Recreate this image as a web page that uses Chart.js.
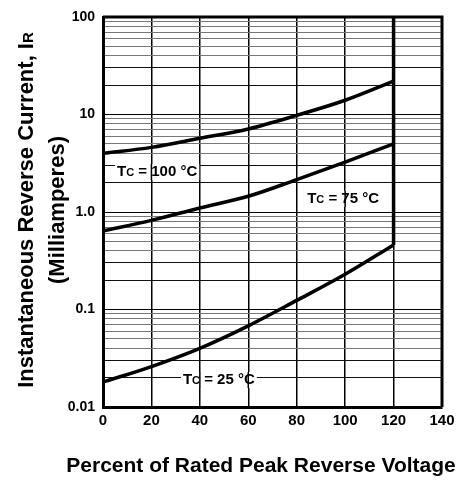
<!DOCTYPE html>
<html>
<head>
<meta charset="utf-8">
<script src="https://cdn.jsdelivr.net/npm/chart.js@4"></script>
<style>
  html, body { margin: 0; padding: 0; background: #fff; }
  #wrap { width: 465px; height: 480px; }
</style>
</head>
<body>
<div id="wrap"><canvas id="chart" width="465" height="480"></canvas></div>
<script>
// percent of rated peak reverse voltage
const voltagePct = [0, 20, 40, 60, 80, 100, 120];
// instantaneous reverse current (mA) per case temperature
const tc100 = [4.0, 4.6, 5.7, 7.1, 9.8, 14, 22];
const tc75 = [0.64, 0.82, 1.1, 1.45, 2.15, 3.25, 5.0];
const tc25 = [0.018, 0.026, 0.040, 0.068, 0.124, 0.23, 0.46];

const xTicks = [0, 20, 40, 60, 80, 100, 120, 140];
const yDecades = [0.01, 0.1, 1, 10, 100];
const yDecadeLabels = ["0.01", "0.1", "1.0", "10", "100"];

// curve labels: temperature text and where the label box starts (data coords)
const curveLabels = [
  { temp: "100", x: 5.8, y: 2.57 },
  { temp: "75", x: 84.3, y: 1.36 },
  { temp: "25", x: 33.0, y: 0.0189 }
];

const FONT = "'Liberation Sans', Arial, sans-serif";

// grid ticks on the log axis: 1..9 in every decade
const yTicks = [];
yDecades.forEach((d, i) => {
  yTicks.push(d);
  if (i < yDecades.length - 1) {
    for (let k = 2; k <= 9; k++) yTicks.push(+(d * k).toPrecision(3));
  }
});

const pts = (ys) => voltagePct.map((x, i) => ({ x: x, y: ys[i] }));
const lastX = voltagePct[voltagePct.length - 1];

const lineStyle = {
  borderColor: "#000",
  borderWidth: 3.5,
  pointRadius: 0,
  fill: false,
  cubicInterpolationMode: "monotone"
};

const labelPlugin = {
  id: "curveLabels",
  beforeDatasetsDraw(chart) {
    const { ctx, scales } = chart;
    curveLabels.forEach((l) => {
      const x0 = scales.x.getPixelForValue(l.x);
      const yc = scales.y.getPixelForValue(l.y);
      ctx.save();
      ctx.textBaseline = "middle";
      const parts = [
        { t: "T", f: "bold 15px " + FONT, dy: 0 },
        { t: "C", f: "bold 11px " + FONT, dy: 1 },
        { t: " = " + l.temp + " \u00b0C", f: "bold 15px " + FONT, dy: 0 }
      ];
      let w = 0;
      parts.forEach((p) => { ctx.font = p.f; p.w = ctx.measureText(p.t).width; w += p.w; });
      ctx.fillStyle = "#fff";
      ctx.fillRect(x0 - 2, yc - 8, w + 4, 16);
      // vertical grid lines run through the label box
      ctx.strokeStyle = "#000";
      ctx.lineWidth = 1.5;
      xTicks.forEach((v) => {
        const px = scales.x.getPixelForValue(v);
        if (px > x0 - 2 && px < x0 + w + 2) {
          ctx.beginPath();
          ctx.moveTo(px, yc - 8);
          ctx.lineTo(px, yc + 8);
          ctx.stroke();
        }
      });
      ctx.fillStyle = "#000";
      let x = x0;
      parts.forEach((p) => { ctx.font = p.f; ctx.fillText(p.t, x, yc + p.dy); x += p.w; });
      ctx.restore();
    });
  },
  afterDraw(chart) {
    const { ctx, chartArea: a } = chart;
    ctx.save();
    // top and right frame
    ctx.strokeStyle = "#000";
    ctx.lineWidth = 3;
    ctx.beginPath();
    ctx.moveTo(a.left, a.top);
    ctx.lineTo(a.right, a.top);
    ctx.lineTo(a.right, a.bottom);
    ctx.stroke();

    ctx.fillStyle = "#000";
    ctx.textBaseline = "middle";
    // x axis title
    ctx.font = "bold 21px " + FONT;
    ctx.textAlign = "center";
    ctx.fillText("Percent of Rated Peak Reverse Voltage", 261, 466);
    ctx.restore();

    // y axis title, two rotated lines (baseline on the right)
    const big = "bold 22px " + FONT, small = "bold 15px " + FONT;
    ctx.save();
    ctx.fillStyle = "#000";
    ctx.translate(33, 210);
    ctx.rotate(-Math.PI / 2);
    ctx.textAlign = "left";
    ctx.textBaseline = "alphabetic";
    const t1 = "Instantaneous Reverse Current, I", t2 = "R";
    ctx.font = big; const w1 = ctx.measureText(t1).width;
    ctx.font = small; const w2 = ctx.measureText(t2).width;
    const start = -(w1 + w2) / 2;
    ctx.font = big; ctx.fillText(t1, start, 0);
    ctx.font = small; ctx.fillText(t2, start + w1, 0);
    ctx.restore();

    ctx.save();
    ctx.fillStyle = "#000";
    ctx.translate(64, 210);
    ctx.rotate(-Math.PI / 2);
    ctx.textAlign = "center";
    ctx.textBaseline = "alphabetic";
    ctx.font = big;
    ctx.fillText("(Milliamperes)", 0, 0);
    ctx.restore();
  }
};

new Chart(document.getElementById("chart"), {
  type: "line",
  data: {
    datasets: [
      Object.assign({ label: "Tc = 100 °C", data: pts(tc100) }, lineStyle),
      Object.assign({ label: "Tc = 75 °C", data: pts(tc75) }, lineStyle),
      Object.assign({ label: "Tc = 25 °C", data: pts(tc25) }, lineStyle),
      Object.assign({}, lineStyle, {
        label: "limit",
        data: [{ x: lastX, y: tc25[tc25.length - 1] }, { x: lastX, y: yDecades[yDecades.length - 1] }]
      })
    ]
  },
  options: {
    responsive: false,
    animation: false,
    layout: { padding: { top: 17, right: 23, left: 0, bottom: 0 } },
    plugins: { legend: { display: false }, tooltip: { enabled: false } },
    scales: {
      x: {
        type: "linear",
        min: 0,
        max: 140,
        afterBuildTicks: (s) => { s.ticks = xTicks.map((v) => ({ value: v })); },
        afterFit: (s) => { s.height = 73; },
        ticks: { color: "#000", font: { family: FONT, size: 15, weight: "bold" }, padding: 5, maxRotation: 0, autoSkip: false },
        grid: { color: "#000", lineWidth: 1.5, drawTicks: false },
        border: { color: "#000", width: 3 }
      },
      y: {
        type: "logarithmic",
        min: 0.01,
        max: 100,
        afterBuildTicks: (s) => { s.ticks = yTicks.map((v) => ({ value: v })); },
        afterFit: (s) => { s.width = 103; },
        ticks: {
          color: "#000",
          font: { family: FONT, size: 14, weight: "bold" },
          padding: 8,
          autoSkip: false,
          callback: (v) => {
            const i = yDecades.indexOf(v);
            return i >= 0 ? yDecadeLabels[i] : "";
          }
        },
        grid: {
          drawTicks: false,
          lineWidth: 1,
          color: (c) => {
            if (!c.tick) return "#000";
            const v = c.tick.value;
            if (yDecades.includes(v)) return "#000";
            const sig = Math.round(v / Math.pow(10, Math.floor(Math.log10(v) + 1e-9)));
            return sig <= 3 ? "#111" : "#777";
          }
        },
        border: { color: "#000", width: 3 }
      }
    }
  },
  plugins: [labelPlugin]
});
</script>
</body>
</html>
